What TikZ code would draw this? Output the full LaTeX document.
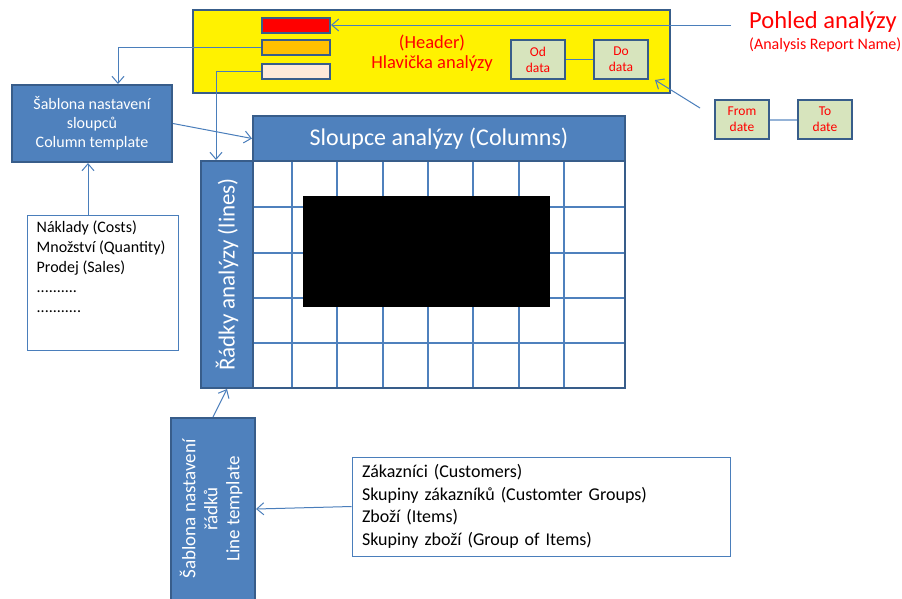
\documentclass[tikz,border=0pt]{standalone}
\usepackage{fontspec}
\setmainfont{Carlito}
\usetikzlibrary{arrows.meta}
\usepackage{xcolor}
\definecolor{boxblue}{HTML}{4F81BD}
\definecolor{edgeblue}{HTML}{385D8A}
\definecolor{lineblue}{HTML}{4A7EBB}
\definecolor{softblue}{HTML}{95B3D7}
\definecolor{dategreen}{HTML}{D7E4BD}
\definecolor{barorange}{HTML}{FFC000}
\definecolor{barpeach}{HTML}{FDE9D9}

\begin{document}
\begin{tikzpicture}[x=1pt, y=-1pt,
        bluebox/.style={
            draw=edgeblue, line width=2pt,
            fill=boxblue, text=white,
            inner sep=0pt, align=center
        },
        headbar/.style={
            draw=edgeblue, line width=2pt,
            minimum width=68pt, minimum height=15pt, inner sep=0pt
        },
        datebox/.style={
            draw=edgeblue, line width=2pt, fill=dategreen, text=red,
            minimum width=54pt, minimum height=39pt, inner sep=0pt,
            align=center, font=\fontsize{13.5}{16}\selectfont
        },
        listbox/.style={
            draw=lineblue, line width=1pt, fill=white, inner sep=0pt
        },
        gridline/.style={draw=boxblue, line width=1.6pt},
        link/.style={
            draw=lineblue, line width=1pt,
            -{Straight Barb[length=7pt,width=12pt]}
        }
    ]

\path[fill=white, use as bounding box] (0,0) rectangle (902,598);

% Header of the report (yellow panel)
        \node[draw=edgeblue, line width=2pt, fill=yellow, minimum width=477pt, minimum height=83pt] (hdr) at (431.5,51.5) {};
        \node[headbar, fill=red] (barR) at (296,25) {};
        \node[headbar, fill=barorange] (barO) at (296,47.5) {};
        \node[headbar, fill=barpeach] (barL) at (296,71) {};
        \node[text=red, align=center, font=\fontsize{18.5}{20}\selectfont] (hdrTxt) at (432,53) {(Header)\\Hlavička analýzy};
        \node[datebox] (odD) at (538,59.5) {Od\\data};
        \node[datebox] (doD) at (621,59.5) {Do\\data};
\draw[lineblue, line width=1pt] (odD) -- (doD);

% Report name and date range
        \node[anchor=west, inner sep=0pt, text=red, font=\fontsize{24.5}{28}\selectfont] (repName) at (749,22) {Pohled analýzy};
        \node[anchor=west, inner sep=0pt, text=red, font=\fontsize{16}{18}\selectfont] (repNameEn) at (749,45) {(Analysis Report Name)};
        \node[datebox] (fromD) at (742,119.5) {From\\date};
        \node[datebox] (toD) at (825,119.5) {To\\date};
\draw[softblue, line width=2pt] (fromD) -- (toD);
\coordinate (nameEnd) at (731,25);
\coordinate (fromTip) at (700,108);
\coordinate (hdrTip) at (655,80);
\draw[link] (nameEnd) -- (barR.east);
\draw[link] (fromTip) -- (hdrTip);

% Analysis grid
\foreach \gx in {292,337,383,428,473,519,564}
    \draw[gridline] (\gx,161) -- (\gx,388);
\foreach \gy in {207,253,298,343}
    \draw[gridline] (253,\gy) -- (625,\gy);
\draw[edgeblue, line width=2pt] (253,161) rectangle (625,388);
        \node[fill=black, minimum width=247pt, minimum height=111pt, inner sep=0pt] (mask) at (426.5,251.5) {};
        \node[bluebox, minimum width=372pt, minimum height=45pt, font=\fontsize{24}{28}\selectfont] (colHead) at (439,138.5) {Sloupce analýzy (Columns)};
        \node[bluebox, minimum width=52pt, minimum height=227pt, font=\fontsize{23}{26}\selectfont] (rows) at (227,274.5) {\rotatebox{90}{Řádky analýzy (lines)}};

% Column template and its list
        \node[bluebox, minimum width=160pt, minimum height=77pt, font=\fontsize{16}{19}\selectfont] (colTpl) at (92,123.5) {Šablona nastavení\\sloupců\\Column template};
        \node[listbox, minimum width=151pt, minimum height=135pt] (costs) at (102.5,282.5) {};
        \node[anchor=north west, inner sep=0pt, align=left, font=\fontsize{16}{20}\selectfont] (costsTxt) at ([xshift=10pt,yshift=-6pt]costs.north west) {Náklady (Costs)\\Množství (Quantity)\\Prodej (Sales)\\..........\\...........};
\draw[link] (barO.west) -| ([xshift=26pt]colTpl.north);
\draw[link] (barL.west) -| ([xshift=-11pt]rows.north);
\draw[link] (colTpl.east) -- (colHead.west);
\draw[link] ([xshift=-14.5pt]costs.north) -- ([xshift=-14.5pt]costs.north |- colTpl.south);

% Line template and its list
        \node[bluebox, minimum width=84pt, minimum height=182pt, font=\fontsize{19}{22}\selectfont] (lineTpl) at (213,509) {\rotatebox{90}{\begin{tabular}{@{}c@{}}Šablona nastavení\\řádků\\Line template\end{tabular}}};
        \node[listbox, minimum width=378pt, minimum height=99pt, text width=358pt, inner xsep=10pt, align=left, font=\fontsize{18}{22.5}\selectfont] (custs) at (541,506.5) {Zákazníci (Customers)\\Skupiny zákazníků (Customter Groups)\\Zboží (Items)\\Skupiny zboží (Group of Items)};
\draw[link] (lineTpl.north) -- (rows.south);
\draw[link] (custs.west) -- (lineTpl.east);

    \end{tikzpicture}
\end{document}
